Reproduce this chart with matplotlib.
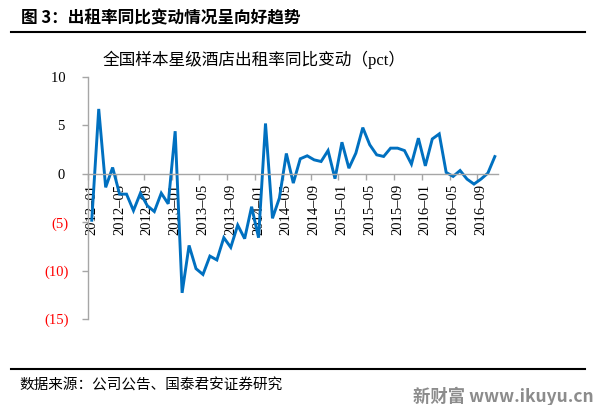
import matplotlib.pyplot as plt
import numpy as np

plt.rcParams['font.family'] = ['Noto Sans CJK SC', 'DejaVu Sans']

# monthly categories 2012-01 .. 2016-11
months = [f"{y}-{m:02d}" for y in range(2012, 2017) for m in range(1, 13)][:59]
occupancy_yoy = [
    -4.8, 6.7, -1.4, 0.65, -2.1, -2.1, -3.8, -2.0, -3.3, -3.9, -2.0, -3.1,
    4.4, -12.3, -7.4, -9.8, -10.4, -8.5, -8.9, -6.6, -7.6, -5.3, -6.7, -3.4,
    -6.6, 5.2, -4.6, -2.5, 2.1, -0.96, 1.55, 1.86, 1.44, 1.27, 2.4, -0.5,
    3.26, 0.58, 2.13, 4.77, 3.0, 1.96, 1.79, 2.65, 2.65, 2.4, 1.0, 3.68,
    0.82, 3.6, 4.12, 0.14, -0.27, 0.34, -0.55, -1.06, -0.55, 0.07, 1.78,
]
y_ticks = [10, 5, 0, -5, -10, -15]
y_labels = ['10 ', '5 ', '0 ', '(5)', '(10)', '(15)']

fig = plt.figure(figsize=(6.01, 4.05), dpi=100)
ax = fig.add_axes([88.3 / 601, 86 / 405, 410 / 601, 242 / 405])

x = np.arange(len(months))
ax.plot(x, occupancy_yoy, color='#0070C0', lw=2.1, solid_joinstyle='miter')

ax.set_xlim(-0.5, len(months) - 0.5)
ax.set_ylim(-15, 10)

for s in ['top', 'right']:
    ax.spines[s].set_visible(False)
ax.spines['bottom'].set_position(('data', 0))
for s in ['left', 'bottom']:
    ax.spines[s].set_color('#A6A6A6')
    ax.spines[s].set_linewidth(1.0)

serif = 'Liberation Serif'
ax.set_yticks(y_ticks)
ax.set_yticklabels(y_labels, fontfamily=serif, fontsize=10.5)
for lab, v in zip(ax.get_yticklabels(), y_ticks):
    lab.set_color('red' if v < 0 else 'black')
ax.tick_params(axis='y', direction='out', length=4, width=1, color='#A6A6A6', pad=10)

label_idx = list(range(0, len(months), 4))
ax.set_xticks(label_idx)
ax.set_xticklabels([months[i].replace('-', '–') for i in label_idx],
                   rotation=90, fontfamily=serif, fontsize=10.5)
ax.tick_params(axis='x', which='major', length=0, pad=7)
ax.set_xticks([i - 0.5 for i in label_idx], minor=True)
ax.tick_params(axis='x', which='minor', direction='out', length=4, width=1, color='#A6A6A6')

fig.text(254 / 601, 1 - 60 / 405, '全国样本星级酒店出租率同比变动（pct）',
         ha='center', va='center', fontsize=12,
         family=['Liberation Serif', 'Noto Sans CJK SC'])

fig.text(21 / 601, 1 - 18 / 405, '图 3：出租率同比变动情况呈向好趋势',
         ha='left', va='center', fontsize=12, fontweight='bold')
fig.add_artist(plt.Line2D([11 / 601, 585 / 601], [1 - 32 / 405] * 2, color='black', lw=1.5))
fig.add_artist(plt.Line2D([11 / 601, 585 / 601], [1 - 368.5 / 405] * 2, color='black', lw=1.5))
fig.text(19 / 601, 1 - 386 / 405, '数据来源：公司公告、国泰君安证券研究',
         ha='left', va='center', fontsize=10.5)
fig.text(594 / 601, 1 - 396 / 405, '新财富 www.ikuyu.cn', ha='right', va='center',
         fontsize=12.5, fontweight='bold', color='#8C8C8C')

fig.savefig('out.png', dpi=100)
